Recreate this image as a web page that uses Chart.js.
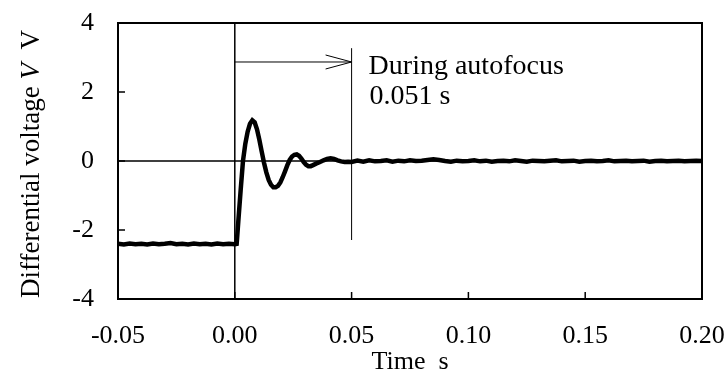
<!DOCTYPE html>
<html lang="en">
<head>
  <meta charset="UTF-8">
  <title>Differential voltage during autofocus</title>
  <script src="https://cdn.jsdelivr.net/npm/chart.js"></script>
  <style>
    body { margin: 0; padding: 0; background: #fff; }
    #wrap { width: 725px; height: 378px; }
  </style>
</head>
<body>
  <div id="wrap"><canvas id="voltageChart" width="725" height="378"></canvas></div>

  <script>
    const time = [
      -0.050, -0.0475, -0.045, -0.0425, -0.040, -0.0375, -0.035, -0.0325, -0.030, -0.0275,
      -0.025, -0.0225, -0.020, -0.0175, -0.015, -0.0125, -0.010, -0.0075, -0.005, -0.0025,
      0.000, 0.0008, 0.0015, 0.0025, 0.0035, 0.0045, 0.0055, 0.0065, 0.0075, 0.0085,
      0.0095, 0.0105, 0.0115, 0.0125, 0.0135, 0.0145, 0.0155, 0.0165, 0.0175, 0.0185,
      0.0195, 0.0205, 0.0215, 0.0225, 0.0235, 0.0245, 0.0255, 0.0265, 0.0275, 0.0285,
      0.0295, 0.0305, 0.0315, 0.0325, 0.0335, 0.0350, 0.0365, 0.0380, 0.0395, 0.0410,
      0.0425, 0.0440, 0.0455, 0.0470, 0.0485, 0.0500, 0.0525, 0.0550, 0.0575, 0.0600,
      0.0625, 0.0650, 0.0675, 0.0700, 0.0725, 0.0750, 0.0775, 0.0800, 0.0825, 0.0850,
      0.0875, 0.0900, 0.0925, 0.0950, 0.0975, 0.1000, 0.1025, 0.1050, 0.1075, 0.1100,
      0.1125, 0.1150, 0.1175, 0.1200, 0.1225, 0.1250, 0.1275, 0.1300, 0.1325, 0.1350,
      0.1375, 0.1400, 0.1425, 0.1450, 0.1475, 0.1500, 0.1525, 0.1550, 0.1575, 0.1600,
      0.1625, 0.1650, 0.1675, 0.1700, 0.1725, 0.1750, 0.1775, 0.1800, 0.1825, 0.1850,
      0.1875, 0.1900, 0.1925, 0.1950, 0.1975, 0.2000
    ];
    const voltage = [
      -2.40, -2.42, -2.39, -2.41, -2.40, -2.42, -2.39, -2.41, -2.40, -2.38,
      -2.41, -2.40, -2.42, -2.39, -2.41, -2.40, -2.42, -2.39, -2.41, -2.40,
      -2.41, -2.40, -1.75, -0.85, 0.00, 0.50, 0.85, 1.08, 1.18, 1.12,
      0.92, 0.62, 0.28, -0.05, -0.33, -0.55, -0.69, -0.76, -0.76, -0.72,
      -0.62, -0.47, -0.30, -0.12, 0.03, 0.13, 0.18, 0.19, 0.15, 0.07,
      -0.03, -0.11, -0.15, -0.15, -0.12, -0.07, -0.03, 0.02, 0.06, 0.08,
      0.06, 0.02, -0.01, -0.03, -0.02, -0.03, 0.01, -0.02, 0.02, -0.01,
      0.00, 0.02, -0.02, 0.01, -0.01, 0.02, 0.00, 0.01, 0.03, 0.05,
      0.03, 0.00, -0.02, 0.01, -0.01, 0.00, 0.02, -0.01, 0.01, -0.02,
      0.00, 0.01, -0.01, 0.02, 0.00, -0.02, 0.01, 0.00, -0.01, 0.01,
      0.02, -0.01, 0.00, 0.01, -0.02, 0.00, 0.01, -0.01, 0.00, 0.02,
      -0.01, 0.00, 0.01, -0.01, 0.00, 0.01, -0.02, 0.00, 0.01, -0.01,
      0.00, 0.01, -0.01, 0.00, 0.01, 0.00
    ];

    // Axis ranges and tick steps
    const xRange = [-0.05, 0.20];
    const yRange = [-4, 4];
    const xStep = 0.05;
    const yStep = 2;

    // Annotation: autofocus interval
    const afStart = 0;
    const afEnd = 0.05;
    const afArrowV = 2.87;
    const afLineTop = 3.27;
    const afLineBottom = -2.29;
    const afLabel = ['During autofocus', '0.051 s'];

    const serif = "'Times New Roman', 'Liberation Serif', serif";
    const fontPx = 26;

    const points = time.map((t, i) => ({ x: t, y: voltage[i] }));

    const framePlugin = {
      id: 'frame',
      beforeDatasetsDraw(chart) {
        const { ctx, chartArea: a, scales: { x, y } } = chart;
        ctx.save();
        ctx.strokeStyle = '#000';
        // reference lines at t = 0 and V = 0
        ctx.lineWidth = 1.5;
        ctx.beginPath();
        ctx.moveTo(x.getPixelForValue(afStart), a.top);
        ctx.lineTo(x.getPixelForValue(afStart), a.bottom);
        ctx.moveTo(a.left, y.getPixelForValue(0));
        ctx.lineTo(a.right, y.getPixelForValue(0));
        ctx.stroke();
        // end of autofocus marker + arrow
        ctx.lineWidth = 1;
        const xe = x.getPixelForValue(afEnd);
        const ya = y.getPixelForValue(afArrowV);
        ctx.beginPath();
        ctx.moveTo(xe, y.getPixelForValue(afLineTop));
        ctx.lineTo(xe, y.getPixelForValue(afLineBottom));
        ctx.moveTo(x.getPixelForValue(afStart), ya);
        ctx.lineTo(xe, ya);
        ctx.moveTo(xe - 26, ya - 7);
        ctx.lineTo(xe, ya);
        ctx.lineTo(xe - 26, ya + 7);
        ctx.stroke();
        // label
        ctx.fillStyle = '#000';
        ctx.font = '28px ' + serif;
        ctx.textAlign = 'left';
        ctx.textBaseline = 'alphabetic';
        ctx.fillText(afLabel[0], xe + 17, ya + 12);
        ctx.fillText(afLabel[1], xe + 18, ya + 42);
        ctx.restore();
      },
      afterDraw(chart) {
        const { ctx, chartArea: a, scales: { x, y } } = chart;
        ctx.save();
        ctx.strokeStyle = '#000';
        // inward tick marks
        ctx.lineWidth = 1.5;
        ctx.beginPath();
        x.ticks.forEach(t => {
          const px = x.getPixelForValue(t.value);
          ctx.moveTo(px, a.bottom);
          ctx.lineTo(px, a.bottom - 7);
        });
        y.ticks.forEach(t => {
          const py = y.getPixelForValue(t.value);
          ctx.moveTo(a.left, py);
          ctx.lineTo(a.left + 7, py);
        });
        ctx.stroke();
        // plot frame
        ctx.lineWidth = 2;
        ctx.strokeRect(a.left, a.top, a.right - a.left, a.bottom - a.top);
        // y axis title with italic symbol
        ctx.fillStyle = '#000';
        ctx.translate(39, (a.top + a.bottom) / 2 + 3);
        ctx.rotate(-Math.PI / 2);
        ctx.textBaseline = 'alphabetic';
        const parts = [
          ['Differential voltage ', ''],
          ['V', 'italic '],
          ['  V', '']
        ];
        let total = 0;
        parts.forEach(p => {
          ctx.font = p[1] + '27px ' + serif;
          total += ctx.measureText(p[0]).width;
        });
        let cx = -total / 2;
        parts.forEach(p => {
          ctx.font = p[1] + '27px ' + serif;
          ctx.fillText(p[0], cx, 0);
          cx += ctx.measureText(p[0]).width;
        });
        ctx.restore();
      }
    };

    const ctx = document.getElementById('voltageChart').getContext('2d');
    new Chart(ctx, {
      type: 'line',
      data: {
        datasets: [{
          data: points,
          borderColor: '#000',
          borderWidth: 4.5,
          pointRadius: 0,
          tension: 0,
          fill: false
        }]
      },
      options: {
        responsive: false,
        animation: false,
        layout: { padding: { top: 23, right: 23, left: 0, bottom: 0 } },
        plugins: { legend: { display: false }, tooltip: { enabled: false } },
        scales: {
          x: {
            type: 'linear',
            min: xRange[0],
            max: xRange[1],
            afterFit: s => {
              s.height = 79;
              s.paddingLeft = 0;
              s.paddingRight = 0;
            },
            afterBuildTicks: s => {
              s.ticks = [];
              for (let v = xRange[0]; v <= xRange[1] + 1e-9; v += xStep) s.ticks.push({ value: +v.toFixed(2) });
            },
            ticks: {
              color: '#000',
              font: { family: serif, size: fontPx },
              padding: 22,
              maxRotation: 0,
              callback: v => v.toFixed(2)
            },
            grid: { display: false, drawTicks: false },
            border: { display: false },
            title: {
              display: true,
              text: 'Time  s',
              color: '#000',
              font: { family: serif, size: fontPx },
              padding: { top: 0, bottom: 0 }
            }
          },
          y: {
            min: yRange[0],
            max: yRange[1],
            afterFit: s => {
              s.width = 118;
              s.paddingTop = 0;
              s.paddingBottom = 0;
            },
            ticks: {
              stepSize: yStep,
              color: '#000',
              font: { family: serif, size: fontPx },
              padding: 24
            },
            grid: { display: false, drawTicks: false },
            border: { display: false }
          }
        }
      },
      plugins: [framePlugin]
    });
  </script>
</body>
</html>
